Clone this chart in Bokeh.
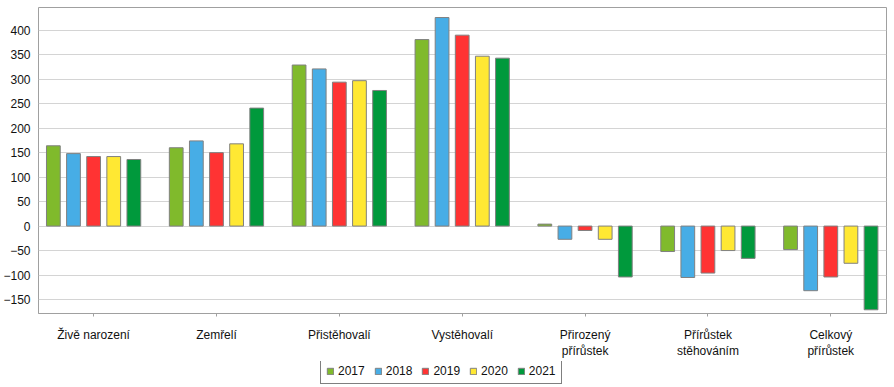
from bokeh.plotting import figure
from bokeh.models import (ColumnDataSource, Range1d, FixedTicker, Legend, LegendItem)
from bokeh.layouts import column
from bokeh.transform import dodge
from bokeh.embed import file_html
from bokeh.resources import INLINE

categories = ["Živě narození", "Zemřelí", "Přistěhovalí", "Vystěhovalí",
              "Přirozený\npřírůstek", "Přírůstek\nstěhováním", "Celkový\npřírůstek"]
years = ["2017", "2018", "2019", "2020", "2021"]
v2017 = [164, 160, 329, 381, 4, -52, -48]
v2018 = [148, 174, 321, 426, -27, -105, -132]
v2019 = [142, 150, 294, 390, -9, -96, -104]
v2020 = [142, 168, 297, 347, -27, -50, -76]
v2021 = [136, 241, 277, 343, -104, -66, -171]
colors = ["#80BA2C", "#47ADE6", "#FF3333", "#FFE833", "#00993C"]
y_ticks = [-150, -100, -50, 0, 50, 100, 150, 200, 250, 300, 350, 400]

series = [v2017, v2018, v2019, v2020, v2021]
data = {"x": list(range(len(categories)))}
for y, vals in zip(years, series):
    data[y] = vals
src = ColumnDataSource(data)

FONT = "Liberation Sans"
TXT = "#111111"
p = figure(width=894, height=361, output_backend="svg", toolbar_location=None,
           x_range=Range1d(-0.4485, 6.4534), y_range=Range1d(-178.6, 446.5),
           min_border_left=35, min_border_right=8, min_border_top=7, min_border_bottom=46)
p.outline_line_color = "#a0a0a0"
p.outline_line_width = 1

step = 0.1638
for i, (y, c) in enumerate(zip(years, colors)):
    p.vbar(x=dodge("x", (i - 2) * step), top=y, bottom=0, width=0.112, source=src,
           fill_color=c, line_color="#808080", line_width=1)

p.xaxis.ticker = FixedTicker(ticks=list(range(len(categories))))
p.xaxis.major_label_overrides = {i: c for i, c in enumerate(categories)}
p.xaxis.axis_line_color = "#a0a0a0"
p.xaxis.major_tick_line_color = "#a0a0a0"
p.xaxis.major_tick_out = 3
p.xaxis.major_tick_in = 0
p.xaxis.minor_tick_line_color = None
p.xaxis.major_label_standoff = 11
p.xaxis.major_label_text_font = FONT
p.xaxis.major_label_text_font_size = "12px"
p.xaxis.major_label_text_color = TXT
p.xaxis.major_label_text_line_height = 1.2

p.yaxis.ticker = FixedTicker(ticks=y_ticks)
p.yaxis.axis_line_color = None
p.yaxis.major_tick_line_color = None
p.yaxis.minor_tick_line_color = None
p.yaxis.major_tick_out = 0
p.yaxis.major_tick_in = 0
p.yaxis.major_label_standoff = 8
p.yaxis.major_label_text_font = FONT
p.yaxis.major_label_text_font_size = "12px"
p.yaxis.major_label_text_color = TXT

p.xgrid.grid_line_color = None
p.ygrid.grid_line_color = "#d4d4d4"
p.ygrid.grid_line_width = 1

# legend strip below the chart (its bars use the same data but lie outside its view)
lg = figure(width=894, height=26, output_backend="svg", toolbar_location=None,
            x_axis_location=None, y_axis_location=None, min_border=0,
            x_range=Range1d(100, 101), y_range=Range1d(1000, 1001))
lg.outline_line_color = None
lg.grid.visible = False
leg_renderers = []
for y, c in zip(years, colors):
    r = lg.vbar(x="x", top=y, bottom=0, width=0.1, source=src,
                fill_color=c, line_color="#808080", line_width=1)
    leg_renderers.append(r)

legend = Legend(items=[LegendItem(label=y, renderers=[r]) for y, r in zip(years, leg_renderers)],
                orientation="horizontal", location=(282, 3),
                border_line_color="black", border_line_width=1,
                padding=5, spacing=9, label_standoff=4,
                glyph_width=8, glyph_height=8, margin=0,
                label_text_font=FONT, label_text_font_size="12px",
                label_text_color=TXT, label_height=12)
lg.add_layout(legend)

layout = column(p, lg, spacing=0)
open("out.html", "w").write(file_html(layout, INLINE))
